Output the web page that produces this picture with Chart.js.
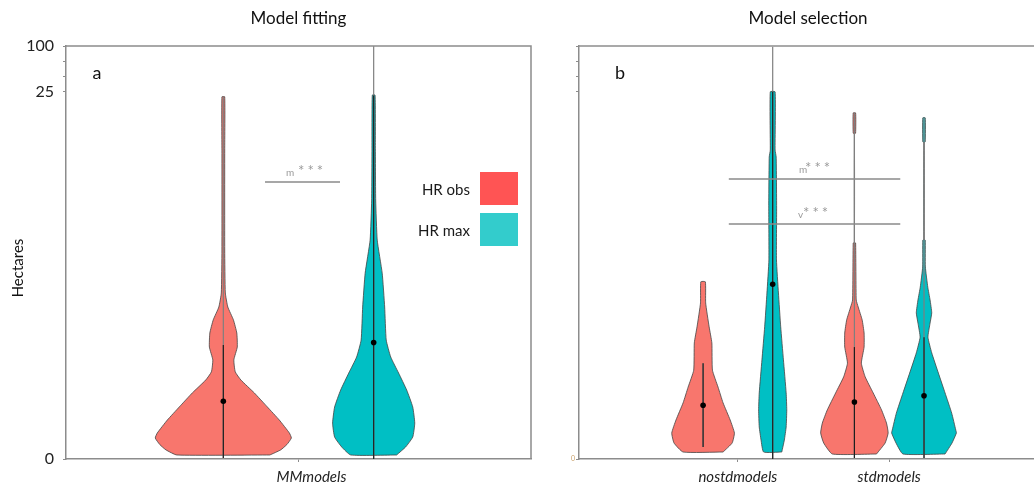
<!DOCTYPE html>
<html>
<head>
<meta charset="utf-8">
<script src="https://cdn.jsdelivr.net/npm/chart.js@4.4.1/dist/chart.umd.min.js"></script>
<style>
  html, body { margin: 0; padding: 0; background: #fff; overflow: hidden; }
  #wrap { position: relative; width: 1034px; height: 487px; overflow: hidden; }
  canvas { position: absolute; top: 0; }
  #left { left: 0; }
  #right { left: 540px; }
</style>
</head>
<body>
<div id="wrap">
  <canvas id="left" width="540" height="487"></canvas>
  <canvas id="right" width="500" height="487"></canvas>
</div>
<script>
// y axis is drawn on a stretched scale: 0..25 takes most of the height
const yTickValues = [0, 88.9, 92.6, 96.3, 100];
const yTickLabels = ['0', '25', '', '', '100'];

const seriesNames = ['HR obs', 'HR max'];
const leftCategories = ['MMmodels'];
const rightCategories = ['nostdmodels', 'stdmodels'];

// violin outlines: levels (y) and half widths (x units)
const mmObsLevels = [0.97, 2.2, 3.5, 5.08, 6.3, 9.44, 12.6, 16.0, 19.1, 21.1, 24.0, 27.1, 30.5, 33.7, 36.8, 40.2, 50.6, 74.8, 87.7];
const mmObsWidths = [0.30, 0.37, 0.41, 0.439, 0.426, 0.361, 0.284, 0.2, 0.114, 0.077, 0.068, 0.090, 0.087, 0.065, 0.029, 0.013, 0.009, 0.009, 0.009];
const mmMaxLevels = [0.97, 2.9, 5.3, 8.7, 12.6, 16.7, 20.8, 24.7, 28.8, 36.8, 45.0, 53.0, 62.7, 74.8, 88.1];
const mmMaxWidths = [0.148, 0.206, 0.252, 0.265, 0.252, 0.213, 0.161, 0.110, 0.081, 0.071, 0.055, 0.023, 0.013, 0.011, 0.009];

const nostdObsLevels = [1.69, 3.87, 6.3, 9.44, 13.6, 17.4, 21.5, 28.1, 32.0, 37.8, 42.9];
const nostdObsWidths = [0.132, 0.192, 0.207, 0.179, 0.132, 0.099, 0.062, 0.058, 0.040, 0.017, 0.015];
const nostdMaxLevels = [1.69, 4.6, 7.75, 11.9, 16.0, 24.0, 32.0, 40.2, 48.2, 61.0, 73.1, 74.8, 88.9];
const nostdMaxWidths = [0.060, 0.077, 0.089, 0.093, 0.089, 0.071, 0.053, 0.038, 0.025, 0.026, 0.023, 0.016, 0.016];

const stdObsLevels = [1.21, 3.87, 6.3, 8.7, 11.9, 16.0, 19.9, 23.2, 27.1, 30.5, 33.7, 36.8, 38.5, 52.3, 52.5, 78.7, 78.9, 83.8];
const stdObsWidths = [0.146, 0.203, 0.223, 0.212, 0.179, 0.124, 0.071, 0.046, 0.064, 0.064, 0.051, 0.025, 0.012, 0.008, 0, 0, 0.008, 0.008];
const stdMaxLevels = [1.21, 3.87, 6.3, 7.0, 11.1, 16.0, 20.8, 25.7, 29.5, 32.9, 35.4, 38.5, 41.6, 46.5, 53.0, 53.2, 76.6, 76.8, 82.6];
const stdMaxWidths = [0.139, 0.185, 0.214, 0.21, 0.183, 0.139, 0.095, 0.051, 0.026, 0.040, 0.051, 0.040, 0.025, 0.009, 0.008, 0, 0, 0.008, 0.008];

// means, inner range lines and whiskers (y units)
const leftMeans = [14.0, 28.2];
const leftInner = [[0.24, 27.6], [0, 88]];
const leftWhisker = [[0.24, 87.7], [0, 100]];
const rightMeans = [13.0, 42.3, 13.8, 15.3];
const rightInner = [[2.9, 23.2], [0, 88.9], [0.24, 27.1], [0.24, 29.5]];
const rightWhisker = [[2.9, 23.2], [0, 99.8], [0.24, 83.8], [0.24, 82.6]];

const FONT = 'Lato, "Open Sans", sans-serif';
const AXIS = '#8c8c8c';
const FILLS = ['#F8766D', '#00BFC4'];
const LEGEND_FILLS = ['#ff5454', '#33cccc'];

function violinPoints(center, levels, widths) {
  let right = levels.map((v, i) => ({x: center + widths[i], y: v}));
  let left = levels.map((v, i) => ({x: center - widths[i], y: v})).reverse();
  return right.concat(left, [right[0]]);
}

function buildDatasets(violins, means, inner, whisker) {
  let ds = [];
  violins.forEach((v, i) => {
    ds.push({
      data: violinPoints(v.x, v.levels, v.widths),
      showLine: true, fill: 'shape', tension: 0.15,
      backgroundColor: FILLS[v.s], borderColor: '#444', borderWidth: 0.8,
      pointRadius: 0, order: 3
    });
    ds.push({
      data: [{x: v.x, y: whisker[i][0]}, {x: v.x, y: whisker[i][1]}],
      showLine: true, fill: false, borderColor: '#7f7f7f', borderWidth: 1.2,
      pointRadius: 0, order: 2
    });
    ds.push({
      data: [{x: v.x, y: inner[i][0]}, {x: v.x, y: inner[i][1]}],
      showLine: true, fill: false, borderColor: '#1e1e1e', borderWidth: 1.2,
      pointRadius: 0, order: 1
    });
    ds.push({
      data: [{x: v.x, y: means[i]}],
      showLine: false, pointRadius: 2.8, pointBackgroundColor: '#000',
      pointBorderWidth: 0, order: 0
    });
  });
  return ds;
}

function makeOptions(o) {
  return {
    responsive: false,
    animation: false,
    layout: {padding: {top: 46, right: o.rightPad, left: 0, bottom: 0}},
    plugins: {legend: {display: false}, tooltip: {enabled: false}},
    scales: {
      x: {
        type: 'linear', min: o.xMin, max: o.xMax,
        afterBuildTicks: s => { s.ticks = o.catPos.map(v => ({value: v})); },
        afterFit: s => { s.height = 28; },
        ticks: {
          autoSkip: false, maxRotation: 0, padding: 6, labelOffset: o.labelOffset,
          callback: (v, i) => o.catNames[i],
          font: {family: FONT, size: 15, style: 'italic'}, color: '#222'
        },
        grid: {drawOnChartArea: false, tickLength: 3, color: AXIS},
        border: {color: AXIS, width: 1.5}
      },
      y: {
        type: 'linear', min: 0, max: 100,
        afterBuildTicks: s => { s.ticks = yTickValues.map(v => ({value: v})); },
        afterFit: s => { s.width = o.yWidth; },
        ticks: {
          autoSkip: false, padding: o.tickPad,
          callback: (v, i) => o.yLabels[i],
          font: {family: FONT, size: o.tickSize}, color: o.tickColor
        },
        grid: {drawOnChartArea: false, tickLength: 3, color: AXIS},
        border: {color: AXIS, width: 1.5}
      }
    }
  };
}

function drawStars(ctx, yLine, sub, xs, xStar) {
  ctx.fillStyle = '#9a9a9a';
  ctx.textAlign = 'left';
  ctx.textBaseline = 'alphabetic';
  ctx.font = '10px ' + FONT;
  ctx.fillText(sub, xs, yLine - 6);
  ctx.font = '15px ' + FONT;
  ctx.letterSpacing = '3px';
  ctx.fillText('***', xStar, yLine - 6);
  ctx.letterSpacing = '0px';
}

const leftDecor = {
  id: 'leftDecor',
  afterDraw(chart) {
    const {ctx, chartArea: a, scales: {x, y}} = chart;
    ctx.save();
    ctx.strokeStyle = AXIS; ctx.lineWidth = 1.5;
    ctx.beginPath();
    ctx.moveTo(a.left, a.top); ctx.lineTo(a.right, a.top); ctx.lineTo(a.right, a.bottom);
    ctx.stroke();

    ctx.fillStyle = '#111';
    ctx.textAlign = 'center'; ctx.textBaseline = 'middle';
    ctx.font = '17px ' + FONT;
    ctx.fillText('Model fitting', (a.left + a.right) / 2, 19);
    ctx.font = '18px ' + FONT;
    ctx.fillText('a', 97, 73);

    ctx.save();
    ctx.translate(18, 268); ctx.rotate(-Math.PI / 2);
    ctx.font = '15px ' + FONT;
    ctx.fillText('Hectares', 0, 0);
    ctx.restore();

    // significance bar
    const yl = y.getPixelForValue(67.1);
    ctx.strokeStyle = '#8a8a8a'; ctx.lineWidth = 1.5;
    ctx.beginPath();
    ctx.moveTo(x.getPixelForValue(1.284), yl); ctx.lineTo(x.getPixelForValue(1.768), yl);
    ctx.stroke();
    drawStars(ctx, yl, 'm', x.getPixelForValue(1.419), x.getPixelForValue(1.497));

    // legend
    ctx.font = '15px ' + FONT;
    ctx.textAlign = 'right'; ctx.textBaseline = 'middle';
    seriesNames.forEach((n, i) => {
      const top = 172 + i * 41;
      ctx.fillStyle = LEGEND_FILLS[i];
      ctx.fillRect(480, top, 38, 33);
      ctx.fillStyle = '#1a1a1a';
      ctx.fillText(n, 470, top + 18);
    });
    ctx.restore();
  }
};

const rightDecor = {
  id: 'rightDecor',
  afterDraw(chart) {
    const {ctx, chartArea: a, scales: {x, y}} = chart;
    ctx.save();
    ctx.strokeStyle = AXIS; ctx.lineWidth = 1.5;
    ctx.beginPath();
    ctx.moveTo(a.left, a.top); ctx.lineTo(a.right, a.top);
    ctx.stroke();

    ctx.fillStyle = '#111';
    ctx.textAlign = 'center'; ctx.textBaseline = 'middle';
    ctx.font = '17px ' + FONT;
    ctx.fillText('Model selection', 268, 19);
    ctx.font = '18px ' + FONT;
    ctx.fillText('b', 80, 73);

    const x0 = x.getPixelForValue(0.94), x1 = x.getPixelForValue(2.073);
    const y1 = y.getPixelForValue(67.8), y2 = y.getPixelForValue(56.9);
    ctx.strokeStyle = '#8a8a8a'; ctx.lineWidth = 1.5;
    ctx.beginPath();
    ctx.moveTo(x0, y1); ctx.lineTo(x1, y1);
    ctx.moveTo(x0, y2); ctx.lineTo(x1, y2);
    ctx.stroke();
    drawStars(ctx, y1, 'm', x.getPixelForValue(1.404), x.getPixelForValue(1.444));
    drawStars(ctx, y2, 'v', x.getPixelForValue(1.397), x.getPixelForValue(1.431));
    ctx.restore();
  }
};

// left panel: one group, dodged pair
const leftDodge = 0.485;
const leftViolins = [
  {x: 1.5 - leftDodge, s: 0, levels: mmObsLevels, widths: mmObsWidths},
  {x: 1.5 + leftDodge, s: 1, levels: mmMaxLevels, widths: mmMaxWidths}
];
new Chart(document.getElementById('left'), {
  type: 'line',
  data: {datasets: buildDatasets(leftViolins, leftMeans, leftInner, leftWhisker)},
  options: makeOptions({
    xMin: 0, xMax: 3, catPos: [1.5], catNames: leftCategories, labelOffset: 13,
    rightPad: 9, yWidth: 66, yLabels: yTickLabels, tickPad: 9, tickSize: 16, tickColor: '#222'
  }),
  plugins: [leftDecor]
});

// right panel: two groups
const rightDodge = 0.23;
const rightViolins = [
  {x: 1 - rightDodge, s: 0, levels: nostdObsLevels, widths: nostdObsWidths},
  {x: 1 + rightDodge, s: 1, levels: nostdMaxLevels, widths: nostdMaxWidths},
  {x: 2 - rightDodge, s: 0, levels: stdObsLevels, widths: stdObsWidths},
  {x: 2 + rightDodge, s: 1, levels: stdMaxLevels, widths: stdMaxWidths}
];
new Chart(document.getElementById('right'), {
  type: 'line',
  data: {datasets: buildDatasets(rightViolins, rightMeans, rightInner, rightWhisker)},
  options: makeOptions({
    xMin: -0.05, xMax: 2.97, catPos: [1, 2], catNames: rightCategories, labelOffset: 0,
    rightPad: 0, yWidth: 39, yLabels: ['0', '', '', '', ''], tickPad: 1, tickSize: 7, tickColor: '#c9a06a'
  }),
  plugins: [rightDecor]
});
</script>
</body>
</html>
